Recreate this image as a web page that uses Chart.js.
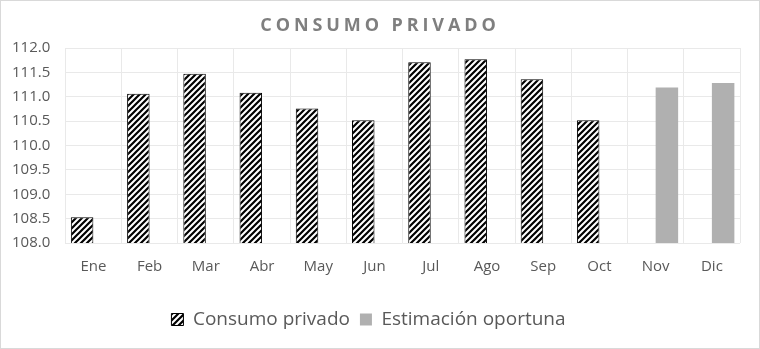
<!DOCTYPE html>
<html>
<head>
<meta charset="utf-8">
<script src="https://cdn.jsdelivr.net/npm/chart.js"></script>
<style>
  html, body { margin: 0; padding: 0; background: #fff; }
  #wrap { position: relative; width: 760px; height: 349px; }
  #frame { position: absolute; left: 0; top: 0; width: 760px; height: 349px; box-sizing: border-box; border: 1px solid #d9d9d9; pointer-events: none; }
  #title { position: absolute; left: 0; top: 12px; width: 760px; text-align: center; font-family: "Open Sans", sans-serif; font-weight: 700; font-size: 18px; letter-spacing: 3.9px; color: #7f7f7f; }
  canvas { position: absolute; left: 0; top: 0; }
</style>
</head>
<body>
<div id="wrap">
  <canvas id="chart" width="760" height="349"></canvas>
  <div id="title">CONSUMO PRIVADO</div>
  <div id="frame"></div>
</div>
<script>
const months = ['Ene', 'Feb', 'Mar', 'Abr', 'May', 'Jun', 'Jul', 'Ago', 'Sep', 'Oct', 'Nov', 'Dic'];
const consumoPrivado = [108.53, 111.06, 111.47, 111.08, 110.76, 110.52, 111.71, 111.77, 111.36, 110.52, null, null];
const estimacionOportuna = [null, null, null, null, null, null, null, null, null, null, 111.19, 111.28];
const yTicks = [108.0, 108.5, 109.0, 109.5, 110.0, 110.5, 111.0, 111.5, 112.0];

// diagonal hatch like the excel pattern fill
function hatch() {
    const c = document.createElement('canvas');
    c.width = 6;
    c.height = 6;
    const g = c.getContext('2d');
    g.fillStyle = '#fff';
    g.fillRect(0, 0, 6, 6);
    g.strokeStyle = '#000';
    g.lineWidth = 2.2;
    g.beginPath();
    g.moveTo(-1, 7); g.lineTo(7, -1);
    g.moveTo(-1, 1); g.lineTo(1, -1);
    g.moveTo(5, 7); g.lineTo(7, 5);
    g.stroke();
    return g.createPattern(c, 'repeat');
}

const textColor = '#595959';
const gridColor = '#e9e9e9';

new Chart(document.getElementById('chart'), {
    type: 'bar',
    data: {
        labels: months,
        datasets: [
            {
                label: 'Consumo privado',
                data: consumoPrivado,
                backgroundColor: hatch(),
                borderColor: '#000',
                borderWidth: 1,
                borderSkipped: false
            },
            {
                label: 'Estimación oportuna',
                data: estimacionOportuna,
                backgroundColor: '#b0b0b0',
                borderWidth: 0
            }
        ]
    },
    options: {
        responsive: false,
        animation: false,
        categoryPercentage: 0.8,
        barPercentage: 1.0,
        layout: { padding: { top: 48, left: -3, right: 20, bottom: 10 } },
        plugins: {
            title: { display: false },
            tooltip: { enabled: false },
            legend: {
                position: 'bottom',
                labels: {
                    color: textColor,
                    font: { family: 'Open Sans', size: 19 },
                    boxWidth: 12,
                    boxHeight: 12,
                    padding: 10
                }
            }
        },
        scales: {
            x: {
                grid: { color: gridColor, drawTicks: false },
                border: { display: false },
                ticks: { color: textColor, font: { family: 'Open Sans', size: 15 }, padding: 15 },
                afterFit: scale => { scale.height += 9; }
            },
            y: {
                min: 108,
                max: 112,
                afterBuildTicks: scale => { scale.ticks = yTicks.map(v => ({ value: v })); },
                grid: { color: gridColor, drawTicks: false },
                border: { display: false },
                ticks: {
                    color: textColor,
                    font: { family: 'Open Sans', size: 15 },
                    padding: 15,
                    callback: v => v.toFixed(1)
                }
            }
        }
    }
});
</script>
</body>
</html>
